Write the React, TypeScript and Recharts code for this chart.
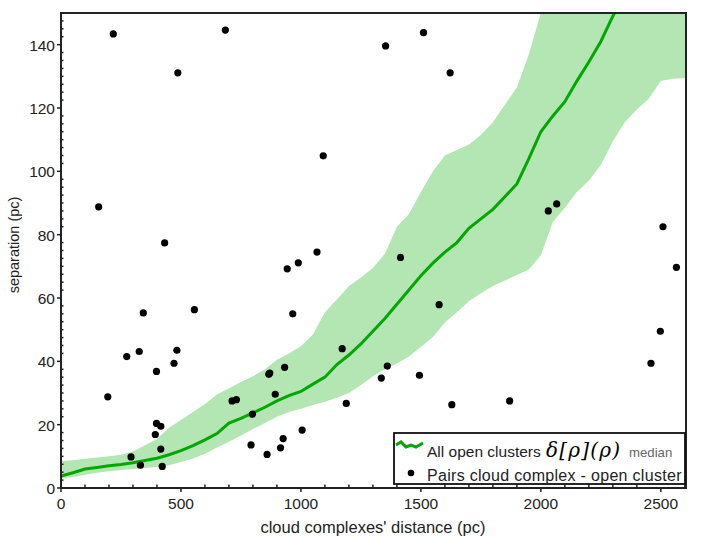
import { Area, ComposedChart, Line, Scatter, XAxis, YAxis } from "recharts";

const BAND = "#b3e6b3";
const MEDIAN = "#00a800";
const INK = "#222";
const SANS = "'Liberation Sans', Arial, sans-serif";

// distance grid (pc) for the open-cluster band and median
const gridDist = [
  0, 50, 100, 150, 200, 250, 300, 350, 400, 450, 500, 550, 600, 650, 700, 750,
  800, 850, 900, 950, 1000, 1050, 1100, 1150, 1200, 1250, 1300, 1350, 1400,
  1450, 1500, 1550, 1600, 1650, 1700, 1750, 1800, 1850, 1900, 1950, 2000, 2050,
  2100, 2150, 2200, 2250, 2300, 2350, 2400, 2450, 2500, 2550, 2605,
];
const medianSep = [
  3.8, 4.8, 6.0, 6.5, 7.0, 7.4, 8.0, 8.7, 9.4, 10.5, 11.8, 13.4, 15.2, 17.2,
  20.5, 22.0, 23.7, 25.5, 27.5, 29.2, 30.5, 32.8, 35.0, 39.0, 42.0, 45.5, 49.5,
  53.5, 58.0, 62.5, 67.0, 71.0, 74.5, 77.5, 82.0, 85.0, 88.0, 92.0, 96.0, 104.0,
  112.5, 117.5, 122.0, 128.5, 134.5, 141.0, 149.0, 156.0, null, null, null, null, null,
];
const bandLow = [
  3.0, 3.5, 4.2, 4.8, 5.3, 5.7, 6.0, 6.3, 6.6, 7.2, 8.2, 9.3, 10.8, 12.8, 14.6,
  16.6, 18.6, 20.5, 22.5, 24.0, 25.0, 26.2, 27.2, 28.5, 30.0, 32.5, 35.3, 37.5,
  39.3, 41.5, 44.5, 47.7, 52.3, 55.5, 59.0, 61.5, 63.8, 65.5, 67.3, 69.0, 73.5,
  84.0, 88.5, 93.5, 97.0, 102.0, 109.5, 115.5, 119.5, 123.0, 128.5, 129.2, 129.5,
];
const bandHigh = [
  8.5, 8.8, 9.2, 9.6, 10.0, 10.5, 11.5, 13.5, 15.5, 19.0, 21.5, 24.0, 26.5, 29.5,
  31.5, 33.5, 35.3, 37.5, 40.5, 42.5, 44.8, 48.5, 55.5, 59.5, 63.8, 66.5, 69.5,
  74.0, 82.5, 86.5, 93.5, 100.0, 105.0, 106.7, 108.5, 111.5, 115.5, 121.0, 126.5,
  137.0, 150, 150, 150, 150, 150, 150, 150, 150, 150, 150, 150, 150, 150,
];

// pairs cloud complex - open cluster
const pairDist = [
  157, 218, 487, 685, 432, 1093, 1067, 989, 943, 1353, 1511, 1622, 1415, 2031,
  2066, 2509, 2565, 195, 274, 292, 326, 331, 343, 398, 393, 398, 416, 416, 422,
  471, 483, 556, 713, 731, 798, 792, 859, 866, 870, 893, 915, 926, 932, 966,
  1005, 1172, 1189, 1576, 1360, 1335, 1494, 1629, 1870, 2498, 2459,
];
const pairSep = [
  88.8, 143.4, 131.1, 144.6, 77.4, 104.9, 74.5, 71.1, 69.2, 139.6, 143.8, 131.1,
  72.8, 87.5, 89.7, 82.5, 69.7, 28.8, 41.5, 9.8, 43.1, 7.2, 55.3, 36.8, 16.9,
  20.4, 19.5, 12.3, 6.8, 39.4, 43.5, 56.3, 27.5, 27.9, 23.3, 13.6, 10.6, 35.9,
  36.3, 29.6, 12.7, 15.6, 38.1, 55.0, 18.3, 44.0, 26.7, 57.9, 38.5, 34.7, 35.6,
  26.3, 27.5, 49.5, 39.4,
];

const xMajor = [0, 500, 1000, 1500, 2000, 2500];
const yMajor = [0, 20, 40, 60, 80, 100, 120, 140];
const xTicks = Array.from({ length: 27 }, (_, i) => i * 100);
const yTicks = Array.from({ length: 61 }, (_, i) => i * 2.5);

const W = 707;
const H = 541;
const PLOT = { left: 61, top: 13, right: 686, bottom: 488 };

const rows = gridDist.map((x, i) => ({
  x,
  band: [bandLow[i], bandHigh[i]],
  median: medianSep[i],
}));
const pairs = pairDist.map((x, i) => ({ x, y: pairSep[i] }));

function XTick({ x, y, payload }: any) {
  const v = payload.value;
  const major = xMajor.includes(v);
  return (
    <g>
      <line x1={x} x2={x} y1={major ? y : y - 3.5} y2={major ? y + 4 : y} stroke={INK} strokeWidth={1.5} />
      {major && (
        <text x={x} y={y + 21} textAnchor="middle" fontSize={15.5} fontFamily={SANS} fill={INK}>
          {v}
        </text>
      )}
    </g>
  );
}

function YTick({ x, y, payload }: any) {
  const v = payload.value;
  const major = yMajor.includes(v);
  return (
    <g>
      <line x1={major ? x - 4 : x} x2={major ? x : x + 2.5} y1={y} y2={y} stroke={INK} strokeWidth={1.5} />
      {major && (
        <text x={x - 6} y={y + 6} textAnchor="end" fontSize={15.5} fontFamily={SANS} fill={INK}>
          {v}
        </text>
      )}
    </g>
  );
}

export default function App() {
  return (
    <div style={{ position: "absolute", left: 0, top: 0, width: W, height: H, background: "#fff" }}>
      <ComposedChart
        width={W}
        height={H}
        data={rows}
        margin={{ top: PLOT.top, right: W - PLOT.right, bottom: 0, left: 0 }}
      >
        <XAxis
          type="number"
          dataKey="x"
          domain={[0, 2605]}
          ticks={xTicks}
          interval={0}
          allowDataOverflow
          tick={<XTick />}
          tickLine={false}
          tickSize={0}
          tickMargin={0}
          height={H - PLOT.bottom}
          axisLine={{ stroke: INK, strokeWidth: 2 }}
        />
        <YAxis
          type="number"
          domain={[0, 150]}
          ticks={yTicks}
          interval={0}
          allowDataOverflow
          tick={<YTick />}
          tickLine={false}
          tickSize={0}
          tickMargin={0}
          width={PLOT.left}
          axisLine={{ stroke: INK, strokeWidth: 2 }}
        />
        <Area
          dataKey="band"
          type="linear"
          fill={BAND}
          fillOpacity={1}
          stroke="none"
          isAnimationActive={false}
        />
        <Line
          dataKey="median"
          type="linear"
          stroke={MEDIAN}
          strokeWidth={3}
          dot={false}
          connectNulls={false}
          isAnimationActive={false}
        />
        <Scatter
          data={pairs}
          dataKey="y"
          fill="#000"
          shape={(p: any) => <circle cx={p.cx} cy={p.cy} r={3.6} fill="#000" />}
          isAnimationActive={false}
        />
      </ComposedChart>

      <svg
        width={W}
        height={H}
        style={{ position: "absolute", left: 0, top: 0, pointerEvents: "none" }}
      >
        <rect
          x={PLOT.left}
          y={PLOT.top}
          width={PLOT.right - PLOT.left}
          height={PLOT.bottom - PLOT.top}
          fill="none"
          stroke={INK}
          strokeWidth={2}
        />
        <text x={373} y={533} textAnchor="middle" fontSize={16.5} fontFamily={SANS} fill={INK}>
          cloud complexes' distance (pc)
        </text>
        <text
          transform="translate(19,245) rotate(-90)"
          textAnchor="middle"
          fontSize={14.5}
          fontFamily={SANS}
          fill={INK}
        >
          separation (pc)
        </text>

        <g>
          <rect x={394} y={433} width={291} height={51} fill="#fff" stroke="#111" strokeWidth={1.8} />
          <path
            d="M396,445 L401,442 L406,447 L411,445 L416,447 L423,443"
            fill="none"
            stroke={MEDIAN}
            strokeWidth={3}
          />
          <text x={427} y={457} fontSize={15.5} fontFamily={SANS} fill={INK}>
            All open clusters
          </text>
          <text
            x={546}
            y={457}
            fontSize={20}
            fontFamily="'DejaVu Serif', serif"
            fontStyle="italic"
            letterSpacing={1.2}
            fill="#000"
          >
            δ[ρ](ρ)
          </text>
          <text x={629} y={457} fontSize={13.2} fontFamily={SANS} fill="#666">
            median
          </text>
          <circle cx={411} cy={473} r={3.3} fill="#000" />
          <text x={427} y={481} fontSize={16} fontFamily={SANS} fill={INK} letterSpacing={0.3}>
            Pairs cloud complex - open cluster
          </text>
        </g>
      </svg>
    </div>
  );
}
